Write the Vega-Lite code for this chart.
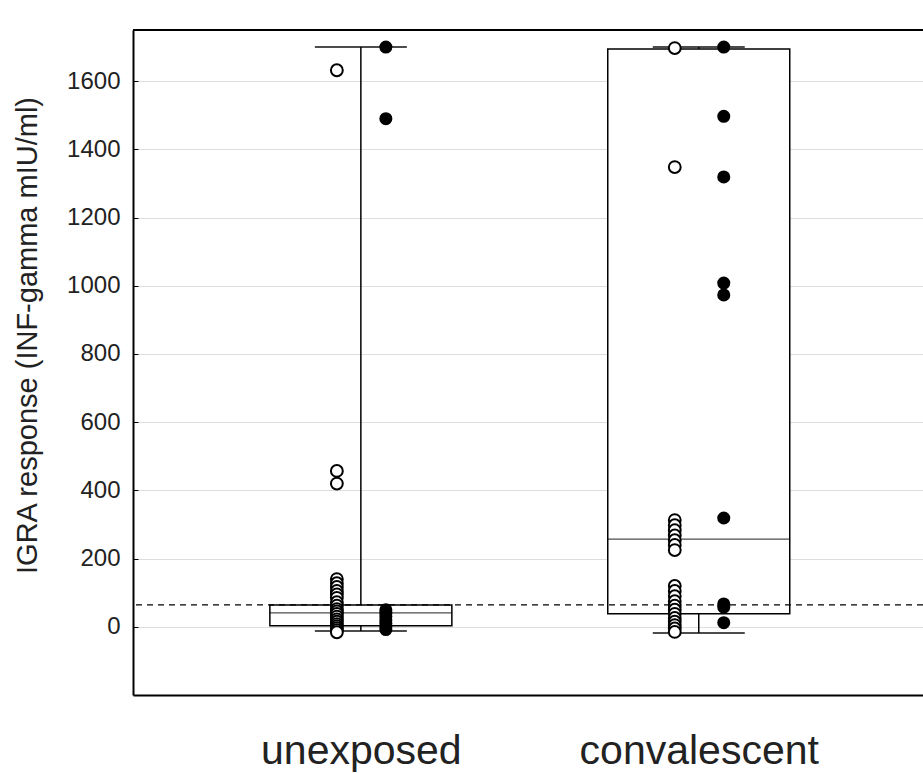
{
  "$schema": "https://vega.github.io/schema/vega-lite/v6.json",
  "width": 790,
  "height": 665,
  "autosize": {"type": "none"},
  "padding": {"left": 133, "top": 30, "right": 0, "bottom": 78},
  "background": "white",
  "config": {
    "view": {"stroke": null},
    "font": "Liberation Sans"
  },
  "datasets": {
    "summary": [
      {"group": "unexposed", "low": -12, "q1": 3, "median": 41, "q3": 64, "high": 1700},
      {"group": "convalescent", "low": -18, "q1": 38, "median": 257, "q3": 1694, "high": 1700}
    ],
    "points": [
      {"group": "unexposed", "kind": "open", "value": 1632},
      {"group": "unexposed", "kind": "open", "value": 457},
      {"group": "unexposed", "kind": "open", "value": 420},
      {"group": "unexposed", "kind": "open", "value": 140},
      {"group": "unexposed", "kind": "open", "value": 128},
      {"group": "unexposed", "kind": "open", "value": 117},
      {"group": "unexposed", "kind": "open", "value": 105},
      {"group": "unexposed", "kind": "open", "value": 95},
      {"group": "unexposed", "kind": "open", "value": 85},
      {"group": "unexposed", "kind": "open", "value": 72},
      {"group": "unexposed", "kind": "open", "value": 62},
      {"group": "unexposed", "kind": "open", "value": 52},
      {"group": "unexposed", "kind": "open", "value": 45},
      {"group": "unexposed", "kind": "open", "value": 38},
      {"group": "unexposed", "kind": "open", "value": 30},
      {"group": "unexposed", "kind": "open", "value": 22},
      {"group": "unexposed", "kind": "open", "value": 15},
      {"group": "unexposed", "kind": "open", "value": 8},
      {"group": "unexposed", "kind": "open", "value": 2},
      {"group": "unexposed", "kind": "open", "value": -4},
      {"group": "unexposed", "kind": "open", "value": -10},
      {"group": "unexposed", "kind": "open", "value": -16},
      {"group": "unexposed", "kind": "filled", "value": 1700},
      {"group": "unexposed", "kind": "filled", "value": 1490},
      {"group": "unexposed", "kind": "filled", "value": 50},
      {"group": "unexposed", "kind": "filled", "value": 40},
      {"group": "unexposed", "kind": "filled", "value": 30},
      {"group": "unexposed", "kind": "filled", "value": 20},
      {"group": "unexposed", "kind": "filled", "value": 10},
      {"group": "unexposed", "kind": "filled", "value": 0},
      {"group": "unexposed", "kind": "filled", "value": -8},
      {"group": "convalescent", "kind": "open", "value": 1697},
      {"group": "convalescent", "kind": "open", "value": 1348},
      {"group": "convalescent", "kind": "open", "value": 313},
      {"group": "convalescent", "kind": "open", "value": 298},
      {"group": "convalescent", "kind": "open", "value": 283},
      {"group": "convalescent", "kind": "open", "value": 268},
      {"group": "convalescent", "kind": "open", "value": 254},
      {"group": "convalescent", "kind": "open", "value": 240},
      {"group": "convalescent", "kind": "open", "value": 225},
      {"group": "convalescent", "kind": "open", "value": 120},
      {"group": "convalescent", "kind": "open", "value": 105},
      {"group": "convalescent", "kind": "open", "value": 90},
      {"group": "convalescent", "kind": "open", "value": 75},
      {"group": "convalescent", "kind": "open", "value": 62},
      {"group": "convalescent", "kind": "open", "value": 50},
      {"group": "convalescent", "kind": "open", "value": 38},
      {"group": "convalescent", "kind": "open", "value": 26},
      {"group": "convalescent", "kind": "open", "value": 15},
      {"group": "convalescent", "kind": "open", "value": 5},
      {"group": "convalescent", "kind": "open", "value": -5},
      {"group": "convalescent", "kind": "open", "value": -15},
      {"group": "convalescent", "kind": "filled", "value": 1700},
      {"group": "convalescent", "kind": "filled", "value": 1497},
      {"group": "convalescent", "kind": "filled", "value": 1319},
      {"group": "convalescent", "kind": "filled", "value": 1008},
      {"group": "convalescent", "kind": "filled", "value": 973},
      {"group": "convalescent", "kind": "filled", "value": 319},
      {"group": "convalescent", "kind": "filled", "value": 67},
      {"group": "convalescent", "kind": "filled", "value": 58},
      {"group": "convalescent", "kind": "filled", "value": 12}
    ]
  },
  "encoding": {
    "x": {
      "field": "group",
      "type": "nominal",
      "sort": null,
      "scale": {"type": "point", "domain": ["unexposed", "convalescent"], "padding": 0.669, "align": 0.504},
      "axis": {
        "title": null,
        "domain": true,
        "domainColor": "black",
        "domainWidth": 2,
        "ticks": false,
        "grid": false,
        "labelAngle": 0,
        "labelFontSize": 41,
        "labelLimit": 0,
        "labelColor": "#222",
        "labelBaseline": "alphabetic",
        "labelPadding": 68
      }
    }
  },
  "layer": [
    {
      "data": {"name": "summary"},
      "mark": {"type": "bar", "fill": "white", "stroke": "black", "strokeWidth": 1.5, "size": 182},
      "encoding": {
        "y": {
          "field": "q1",
          "type": "quantitative",
          "scale": {"domain": [-200, 1750], "nice": false, "zero": false},
          "axis": {
            "title": "IGRA response (INF-gamma mIU/ml)",
            "titleFontSize": 29,
            "titleFontWeight": "normal",
            "titleColor": "#222",
            "titleX": -97,
            "titleY": 305,
            "titleAlign": "center",
            "titleBaseline": "alphabetic",
            "values": [0, 200, 400, 600, 800, 1000, 1200, 1400, 1600],
            "format": "d",
            "grid": true,
            "gridColor": "#dddddd",
            "gridWidth": 1,
            "domain": true,
            "domainColor": "black",
            "domainWidth": 2,
            "ticks": true,
            "tickSize": -5,
            "tickColor": "black",
            "labelFontSize": 24,
            "labelColor": "#222",
            "labelPadding": 18
          }
        },
        "y2": {"field": "q3"}
      }
    },
    {
      "data": {"name": "summary"},
      "mark": {"type": "tick", "color": "black", "size": 182, "thickness": 1.2},
      "encoding": {"y": {"field": "median", "type": "quantitative"}}
    },
    {
      "data": {"name": "summary"},
      "mark": {"type": "rule", "color": "black", "strokeWidth": 1.5},
      "encoding": {"y": {"field": "q3", "type": "quantitative"}, "y2": {"field": "high"}}
    },
    {
      "data": {"name": "summary"},
      "mark": {"type": "rule", "color": "black", "strokeWidth": 1.5},
      "encoding": {"y": {"field": "low", "type": "quantitative"}, "y2": {"field": "q1"}}
    },
    {
      "data": {"name": "summary"},
      "mark": {"type": "tick", "color": "black", "size": 92, "thickness": 2},
      "encoding": {"y": {"field": "high", "type": "quantitative"}}
    },
    {
      "data": {"name": "summary"},
      "mark": {"type": "tick", "color": "black", "size": 92, "thickness": 2},
      "encoding": {"y": {"field": "low", "type": "quantitative"}}
    },
    {
      "data": {"values": [{}]},
      "mark": {"type": "rule", "color": "black", "strokeWidth": 1.3, "strokeDash": [6, 5]},
      "encoding": {"x": null, "y": {"datum": 64, "type": "quantitative"}}
    },
    {
      "data": {"values": [{}]},
      "mark": {"type": "rule", "color": "black", "strokeWidth": 2},
      "encoding": {"x": null, "y": {"datum": 1750, "type": "quantitative"}}
    },
    {
      "data": {"name": "points"},
      "transform": [{"filter": "datum.kind == 'open'"}],
      "mark": {"type": "point", "shape": "circle", "filled": false, "fill": "white", "stroke": "black", "strokeWidth": 2, "size": 140, "opacity": 1},
      "encoding": {
        "y": {"field": "value", "type": "quantitative"},
        "xOffset": {"field": "kind", "type": "nominal", "scale": {"type": "point", "domain": ["open", "filled"], "range": [-24, 25], "padding": 0}}
      }
    },
    {
      "data": {"name": "points"},
      "transform": [{"filter": "datum.kind == 'filled'"}],
      "mark": {"type": "point", "shape": "circle", "filled": true, "color": "black", "size": 170, "opacity": 1},
      "encoding": {
        "y": {"field": "value", "type": "quantitative"},
        "xOffset": {"field": "kind", "type": "nominal", "scale": {"type": "point", "domain": ["open", "filled"], "range": [-24, 25], "padding": 0}}
      }
    }
  ]
}
